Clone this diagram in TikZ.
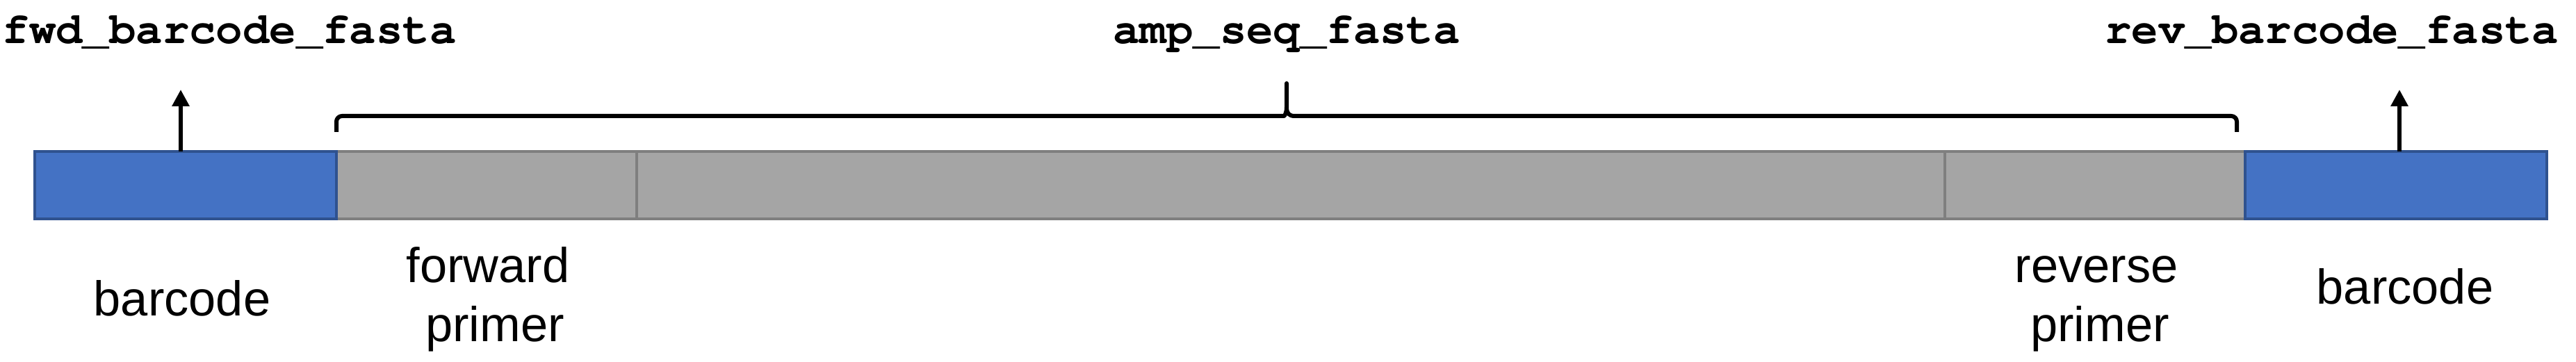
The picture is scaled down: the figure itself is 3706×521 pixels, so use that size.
\documentclass[tikz,border=0pt]{standalone}
\usepackage{fontspec}
\setmainfont{Liberation Sans}
\newfontfamily\codefont{texgyrecursor-bold.otf}
\usetikzlibrary{arrows.meta}
\definecolor{bfill}{HTML}{4472C4}
\definecolor{bline}{HTML}{2F528F}
\definecolor{gfill}{HTML}{A5A5A5}
\definecolor{gline}{HTML}{7F7F7F}
\tikzset{
  seg/.style={rectangle, inner sep=0pt, outer sep=0pt, minimum height=24.25pt},
  bluebox/.style={seg, fill=bfill, draw=bline, line width=0.9pt},
  graybox/.style={seg, fill=gfill, draw=gline, line width=1pt},
  codelabel/.style={font=\codefont\fontsize{16}{19}\selectfont, inner sep=0pt},
  partlabel/.style={font=\fontsize{17.6}{21}\selectfont, inner sep=0pt},
  arr/.style={line width=1.5pt, -{Triangle[width=6pt,length=6pt]}},
  bracket/.style={line width=1.5pt, line join=round}
}
\begin{document}
\begin{tikzpicture}[x=0.25pt,y=-0.25pt]
\useasboundingbox (0,0) rectangle (3706,521);
% segments
\node[graybox, minimum width=108pt] (fp) at (700,266.5) {};
\node[graybox, minimum width=470.5pt] (amp) at (1857,266.5) {};
\node[graybox, minimum width=108pt] (rp) at (3014,266.5) {};
\node[bluebox, minimum width=108.5pt] (bc1) at (267,266.5) {};
\node[bluebox, minimum width=108.5pt] (bc2) at (3447,266.5) {};
% file names
\node[codelabel, anchor=base west] (fwdname) at (3,63) {fwd\_barcode\_fasta};
\node[codelabel, anchor=base] (ampname) at (1851,63) {amp\_seq\_fasta};
\node[codelabel, anchor=base east] (revname) at (3682,63) {rev\_barcode\_fasta};
% arrows
\coordinate (fwdtip) at (260,129);
\coordinate (revtip) at (3452,129);
\draw[arr] (fwdtip |- bc1.north) -- (fwdtip);
\draw[arr] (revtip |- bc2.north) -- (revtip);
% bracket
\coordinate (brL) at (484,190);
\coordinate (brR) at (3218,190);
\coordinate (brT) at (1851,120);
\draw[bracket, rounded corners=2pt] (brL) -- (brL |- 0,167) -- (1839,167)
  [sharp corners] .. controls (1848,167) and (1851,163) .. (1851,154) -- (brT)
  -- (1851,154) .. controls (1851,163) and (1854,167) .. (1863,167)
  [rounded corners=2pt] -- (brR |- 0,167) -- (brR);
% part labels
\node[partlabel, anchor=base] (bc1lab) at (262,455) {barcode};
\node[partlabel, anchor=base] (fplab1) at (702,407) {forward};
\node[partlabel, anchor=base] (fplab2) at (712,492) {primer};
\node[partlabel, anchor=base] (rplab1) at (3016,407) {reverse};
\node[partlabel, anchor=base] (rplab2) at (3021,492) {primer};
\node[partlabel, anchor=base] (bc2lab) at (3460,438) {barcode};
\end{tikzpicture}
\end{document}
